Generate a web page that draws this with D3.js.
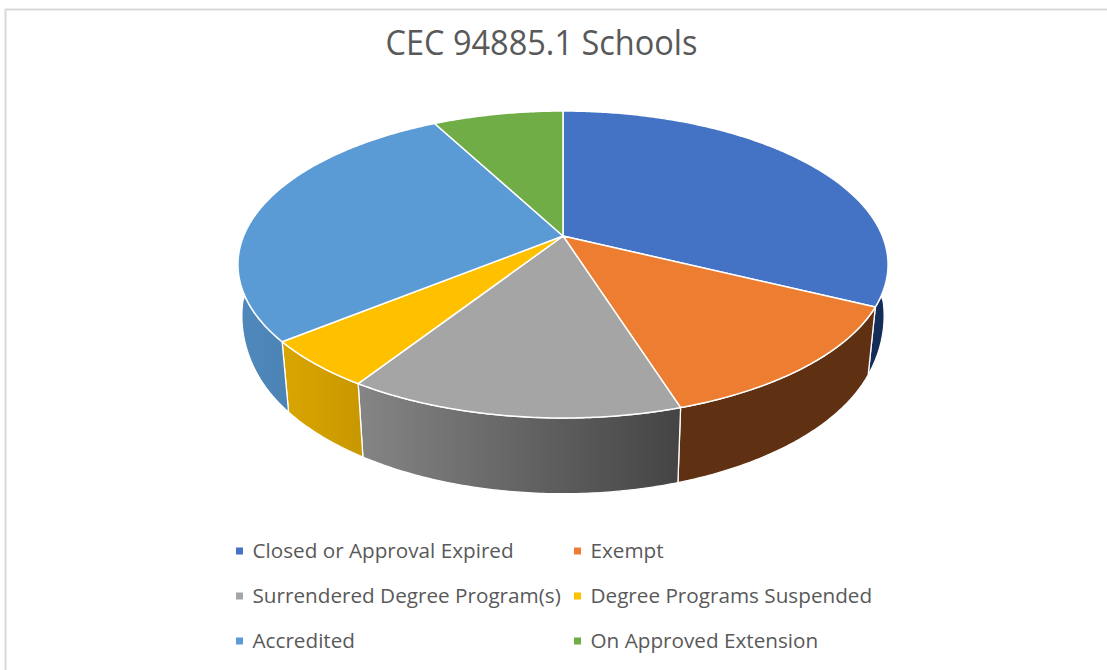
<!DOCTYPE html>
<html>
<head>
<meta charset="utf-8">
<title>CEC 94885.1 Schools</title>
<style>
html, body { margin: 0; padding: 0; background: #fff; overflow: hidden; }
text { font-family: "Open Sans", sans-serif; fill: #595959; }
</style>
</head>
<body>
<div id="chart"></div>
<script src="https://cdn.jsdelivr.net/npm/d3@7/dist/d3.min.js"></script>
<script>
var categories = ["Closed or Approval Expired", "Exempt", "Surrendered Degree Program(s)", "Degree Programs Suspended", "Accredited", "On Approved Extension"];
// share of schools in percent
var schools = [32.25, 12.85, 14.0, 5.05, 28.1, 7.75];
var topColors = ["#4472c4", "#ed7d31", "#a5a5a5", "#ffc000", "#5b9bd5", "#70ad47"];
// left and right shade of the side wall of each slice
var sideLeft = ["#1c3a70", "#5f3011", "#858585", "#d9a600", "#4f88bb", "#3f6628"];
var sideRight = ["#142c58", "#5f3011", "#444444", "#c99800", "#4477a6", "#3f6628"];

var width = 1107, height = 670;
var cx = 563, cy = 236;          // apex of the pie on screen
var a = 319.4, b = 148.2, k = 0.1857;  // tilt and perspective of the disc

var svg = d3.select("#chart").append("svg")
    .attr("width", width)
    .attr("height", height);

// frame left by the screenshot
svg.append("path")
    .attr("d", "M5.5,670V9.5H1107")
    .attr("fill", "none")
    .attr("stroke", "#d9d9d9")
    .attr("stroke-width", 2);

svg.append("text")
    .attr("x", 541.5)
    .attr("y", 54.5)
    .attr("text-anchor", "middle")
    .style("font-size", "34px")
    .attr("textLength", 312)
    .attr("lengthAdjust", "spacingAndGlyphs")
    .text("CEC 94885.1 Schools");

var pie = d3.pie().sort(null);
var slices = pie(schools);

// angle round the disc -> screen point on the top rim
function rim(t) {
  var X = Math.sin(t), Y = -Math.cos(t), w = 1 - k * Y;
  return [cx + a * X / w, cy + b * Y / w];
}
// same angle on the lower rim of the wall, walls lean inwards only toward the front
function lowRim(t) {
  var p = rim(t), Y = -Math.cos(t);
  var d = Math.max(0, 0.45 - Y);
  var s = Math.min(1, 0.977 + 0.12 * d * d);
  return [cx + (p[0] - cx) * s, cy + (p[1] - cy) * 1.07 + 63];
}
function arcPoints(s, fn) {
  var n = Math.ceil((s.endAngle - s.startAngle) / 0.01);
  return d3.range(n + 1).map(function(i) {
    return fn(s.startAngle + (s.endAngle - s.startAngle) * i / n);
  });
}

var defs = svg.append("defs");
slices.forEach(function(s, i) {
  var pts = arcPoints(s, rim), xs = pts.map(function(p) { return p[0]; });
  var g = defs.append("linearGradient")
      .attr("id", "side" + i)
      .attr("gradientUnits", "userSpaceOnUse")
      .attr("x1", d3.min(xs)).attr("x2", d3.max(xs))
      .attr("y1", 0).attr("y2", 0);
  g.append("stop").attr("offset", 0).attr("stop-color", sideLeft[i]);
  g.append("stop").attr("offset", 1).attr("stop-color", sideRight[i]);
});

var line = d3.line();

// side walls first, the top covers whatever is at the back
svg.append("g").selectAll("path")
    .data(slices)
    .enter().append("path")
    .attr("d", function(d) {
      return line(arcPoints(d, rim).concat(arcPoints(d, lowRim).reverse())) + "Z";
    })
    .attr("fill", function(d, i) { return "url(#side" + i + ")"; })
    .attr("stroke", "#fff")
    .attr("stroke-width", 1.3)
    .attr("stroke-linejoin", "round");

// top of the pie
svg.append("g").selectAll("path")
    .data(slices)
    .enter().append("path")
    .attr("d", function(d) {
      return line([[cx, cy]].concat(arcPoints(d, rim))) + "Z";
    })
    .attr("fill", function(d, i) { return topColors[i]; })
    .attr("stroke", "#fff")
    .attr("stroke-width", 1.5)
    .attr("stroke-linejoin", "round");

// legend
var legendX = d3.scalePoint().domain([0, 1]).range([240, 578]);
var legendY = d3.scalePoint().domain([0, 1, 2]).range([551, 641]);

var legend = svg.append("g").selectAll("g")
    .data(categories)
    .enter().append("g")
    .attr("transform", function(d, i) {
      return "translate(" + legendX(i % 2) + "," + legendY(Math.floor(i / 2)) + ")";
    });

legend.append("rect")
    .attr("x", -4).attr("y", -3.5)
    .attr("width", 7).attr("height", 7)
    .attr("fill", function(d, i) { return topColors[i]; });

legend.append("text")
    .attr("x", 12.5)
    .attr("y", 6.8)
    .style("font-size", "20.7px")
    .text(function(d) { return d; });
</script>
</body>
</html>
